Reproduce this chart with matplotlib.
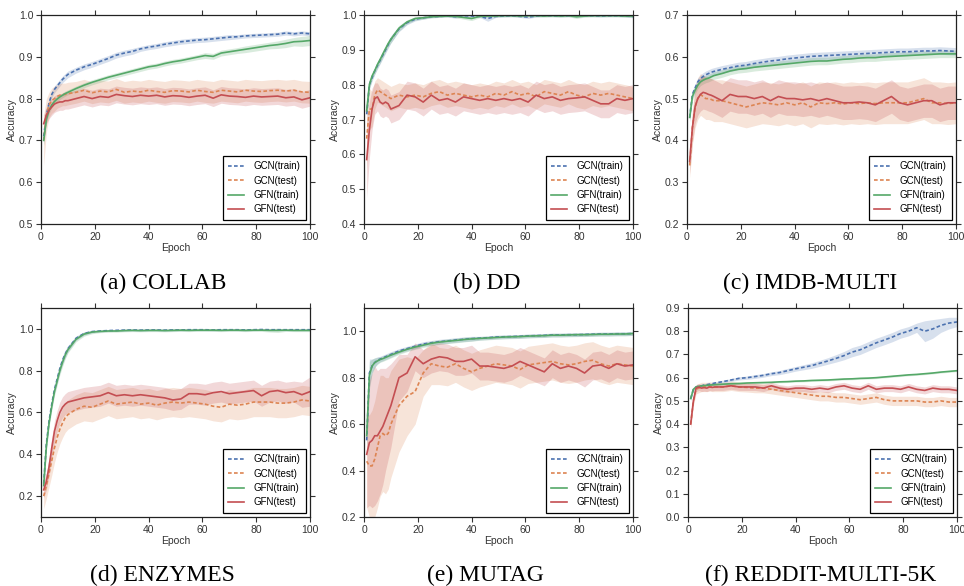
import numpy as np
import matplotlib.pyplot as plt

plt.rcParams['font.family'] = ['Liberation Sans', 'DejaVu Sans']

epochs = [1, 2, 3, 4, 5, 6, 7, 8, 9, 10, 13, 16, 19, 22, 25, 28, 31, 34, 37, 40,
          43, 46, 49, 52, 55, 58, 61, 64, 67, 70, 73, 76, 79, 82, 85, 88, 91, 94, 97, 100]

labels = ['GCN(train)', 'GCN(test)', 'GFN(train)', 'GFN(test)']
captions = ['(a) COLLAB', '(b) DD', '(c) IMDB-MULTI',
            '(d) ENZYMES', '(e) MUTAG', '(f) REDDIT-MULTI-5K']

# ---- (a) COLLAB
a_gcn_tr = [0.71, 0.76, 0.79, 0.81, 0.822, 0.83, 0.838, 0.846, 0.852, 0.858, 0.868, 0.876, 0.882, 0.889, 0.896, 0.904, 0.909, 0.913, 0.919, 0.923,
            0.926, 0.93, 0.933, 0.936, 0.938, 0.94, 0.941, 0.943, 0.945, 0.947, 0.948, 0.95, 0.951, 0.952, 0.953, 0.954, 0.957, 0.955, 0.957, 0.955]
a_gcn_tr_sd = [0.02, 0.012, 0.01, 0.008, 0.008, 0.008, 0.008, 0.008, 0.008, 0.008, 0.007, 0.007, 0.007, 0.007, 0.007, 0.007, 0.007, 0.007, 0.006, 0.006,
               0.006, 0.006, 0.006, 0.006, 0.006, 0.006, 0.006, 0.006, 0.006, 0.006, 0.005, 0.005, 0.005, 0.005, 0.005, 0.005, 0.005, 0.005, 0.005, 0.005]
a_gcn_te = [0.70, 0.76, 0.785, 0.795, 0.80, 0.805, 0.808, 0.81, 0.81, 0.812, 0.815, 0.82, 0.814, 0.818, 0.816, 0.822, 0.815, 0.818, 0.816, 0.82,
            0.817, 0.815, 0.819, 0.818, 0.816, 0.82, 0.817, 0.815, 0.82, 0.818, 0.816, 0.82, 0.818, 0.817, 0.819, 0.82, 0.818, 0.82, 0.816, 0.815]
a_gcn_te_sd = [0.06, 0.04, 0.03, 0.03, 0.03, 0.028, 0.028, 0.027, 0.027, 0.027, 0.026, 0.026, 0.026, 0.026, 0.026, 0.026, 0.026, 0.026, 0.026, 0.026,
               0.026, 0.026, 0.026, 0.026, 0.026, 0.026, 0.026, 0.026, 0.026, 0.026, 0.026, 0.026, 0.026, 0.026, 0.026, 0.026, 0.026, 0.026, 0.026, 0.026]
a_gfn_tr = [0.70, 0.75, 0.772, 0.785, 0.793, 0.799, 0.804, 0.808, 0.812, 0.815, 0.824, 0.832, 0.839, 0.845, 0.851, 0.856, 0.861, 0.866, 0.871, 0.876,
            0.879, 0.884, 0.888, 0.891, 0.895, 0.899, 0.903, 0.901, 0.909, 0.912, 0.915, 0.918, 0.921, 0.924, 0.927, 0.929, 0.932, 0.936, 0.937, 0.939]
a_gfn_tr_sd = [0.012, 0.01, 0.008, 0.007, 0.006, 0.006, 0.006, 0.006, 0.006, 0.006, 0.006, 0.006, 0.006, 0.006, 0.006, 0.006, 0.006, 0.006, 0.006, 0.006,
               0.006, 0.006, 0.006, 0.006, 0.006, 0.006, 0.007, 0.007, 0.007, 0.007, 0.007, 0.008, 0.008, 0.008, 0.008, 0.009, 0.01, 0.01, 0.012, 0.012]
a_gfn_te = [0.74, 0.76, 0.772, 0.78, 0.787, 0.79, 0.792, 0.792, 0.795, 0.795, 0.80, 0.805, 0.80, 0.805, 0.803, 0.81, 0.807, 0.805, 0.808, 0.806,
            0.808, 0.804, 0.807, 0.806, 0.803, 0.806, 0.808, 0.801, 0.809, 0.806, 0.805, 0.803, 0.806, 0.804, 0.805, 0.806, 0.802, 0.804, 0.797, 0.802]
a_gfn_te_sd = [0.02, 0.02, 0.02, 0.02, 0.02, 0.02, 0.02, 0.02, 0.02, 0.02, 0.02, 0.02, 0.02, 0.02, 0.02, 0.02, 0.02, 0.02, 0.02, 0.02,
               0.02, 0.02, 0.02, 0.02, 0.02, 0.02, 0.02, 0.02, 0.02, 0.02, 0.02, 0.02, 0.02, 0.02, 0.02, 0.02, 0.02, 0.02, 0.02, 0.02]

# ---- (b) DD
b_gcn_tr = [0.715, 0.80, 0.82, 0.84, 0.855, 0.87, 0.885, 0.90, 0.915, 0.93, 0.96, 0.978, 0.988, 0.992, 0.995, 0.996, 0.997, 0.995, 0.998, 0.997,
            0.996, 0.99, 0.996, 0.997, 0.998, 0.996, 0.994, 0.997, 0.998, 0.998, 0.997, 0.998, 0.997, 0.998, 0.998, 0.997, 0.998, 0.998, 0.997, 0.996]
b_gcn_tr_sd = [0.015, 0.012, 0.01, 0.01, 0.01, 0.01, 0.01, 0.01, 0.01, 0.01, 0.008, 0.006, 0.005, 0.004, 0.003, 0.003, 0.003, 0.004, 0.003, 0.003,
               0.003, 0.008, 0.003, 0.003, 0.003, 0.003, 0.004, 0.003, 0.003, 0.003, 0.003, 0.003, 0.003, 0.003, 0.003, 0.003, 0.003, 0.003, 0.003, 0.004]
b_gcn_te = [0.645, 0.73, 0.73, 0.77, 0.785, 0.78, 0.775, 0.77, 0.765, 0.76, 0.77, 0.765, 0.77, 0.765, 0.775, 0.78, 0.77, 0.775, 0.77, 0.765,
            0.77, 0.765, 0.775, 0.77, 0.78, 0.77, 0.775, 0.765, 0.78, 0.775, 0.77, 0.78, 0.77, 0.765, 0.775, 0.77, 0.775, 0.77, 0.765, 0.76]
b_gcn_te_sd = [0.09, 0.06, 0.05, 0.04, 0.035, 0.035, 0.035, 0.035, 0.035, 0.035, 0.035, 0.035, 0.035, 0.035, 0.035, 0.035, 0.035, 0.035, 0.035, 0.035,
               0.035, 0.035, 0.035, 0.035, 0.035, 0.035, 0.035, 0.035, 0.035, 0.035, 0.035, 0.035, 0.035, 0.035, 0.035, 0.035, 0.035, 0.035, 0.035, 0.035]
b_gfn_tr = [0.725, 0.80, 0.825, 0.84, 0.858, 0.872, 0.888, 0.903, 0.918, 0.93, 0.962, 0.98, 0.99, 0.992, 0.995, 0.996, 0.997, 0.996, 0.993, 0.99,
            0.996, 0.997, 0.997, 0.998, 0.998, 0.997, 0.998, 0.998, 0.997, 0.998, 0.997, 0.998, 0.995, 0.997, 0.998, 0.998, 0.998, 0.998, 0.997, 0.997]
b_gfn_tr_sd = [0.015, 0.012, 0.01, 0.01, 0.01, 0.01, 0.01, 0.01, 0.01, 0.01, 0.008, 0.006, 0.005, 0.004, 0.003, 0.003, 0.003, 0.004, 0.005, 0.006,
               0.004, 0.003, 0.003, 0.003, 0.003, 0.003, 0.003, 0.003, 0.003, 0.003, 0.003, 0.003, 0.005, 0.003, 0.003, 0.003, 0.003, 0.003, 0.003, 0.004]
b_gfn_te = [0.585, 0.67, 0.73, 0.76, 0.765, 0.75, 0.745, 0.75, 0.745, 0.73, 0.74, 0.77, 0.765, 0.75, 0.77, 0.755, 0.76, 0.75, 0.765, 0.76,
            0.755, 0.76, 0.755, 0.76, 0.755, 0.76, 0.75, 0.77, 0.76, 0.765, 0.755, 0.76, 0.762, 0.765, 0.755, 0.745, 0.745, 0.76, 0.755, 0.76]
b_gfn_te_sd = [0.11, 0.08, 0.06, 0.045, 0.04, 0.04, 0.04, 0.04, 0.04, 0.04, 0.04, 0.04, 0.04, 0.04, 0.04, 0.04, 0.04, 0.04, 0.04, 0.04,
               0.04, 0.04, 0.04, 0.04, 0.04, 0.04, 0.04, 0.04, 0.04, 0.04, 0.04, 0.04, 0.04, 0.04, 0.04, 0.04, 0.04, 0.04, 0.04, 0.04]

# ---- (c) IMDB-MULTI
c_gcn_tr = [0.455, 0.51, 0.525, 0.54, 0.548, 0.553, 0.557, 0.56, 0.563, 0.565, 0.57, 0.574, 0.578, 0.58, 0.584, 0.587, 0.59, 0.592, 0.595, 0.597,
            0.599, 0.601, 0.602, 0.603, 0.604, 0.605, 0.606, 0.607, 0.608, 0.609, 0.61, 0.611, 0.612, 0.612, 0.613, 0.614, 0.614, 0.615, 0.614, 0.613]
c_gcn_tr_sd = [0.01, 0.01, 0.009, 0.009, 0.009, 0.009, 0.009, 0.009, 0.009, 0.009, 0.009, 0.009, 0.009, 0.009, 0.009, 0.009, 0.009, 0.009, 0.009, 0.009,
               0.009, 0.009, 0.009, 0.009, 0.009, 0.009, 0.009, 0.009, 0.009, 0.009, 0.009, 0.009, 0.009, 0.009, 0.009, 0.009, 0.009, 0.009, 0.009, 0.009]
c_gcn_te = [0.34, 0.43, 0.48, 0.50, 0.51, 0.505, 0.50, 0.50, 0.498, 0.495, 0.495, 0.49, 0.485, 0.48, 0.485, 0.49, 0.488, 0.485, 0.49, 0.485,
            0.49, 0.48, 0.49, 0.488, 0.49, 0.487, 0.49, 0.488, 0.49, 0.488, 0.49, 0.49, 0.49, 0.49, 0.495, 0.50, 0.49, 0.49, 0.488, 0.49]
c_gcn_te_sd = [0.03, 0.04, 0.05, 0.05, 0.05, 0.05, 0.05, 0.05, 0.05, 0.05, 0.05, 0.05, 0.05, 0.05, 0.05, 0.05, 0.05, 0.05, 0.05, 0.05,
               0.05, 0.05, 0.05, 0.05, 0.05, 0.05, 0.05, 0.05, 0.05, 0.05, 0.05, 0.05, 0.05, 0.05, 0.05, 0.05, 0.05, 0.05, 0.05, 0.05]
c_gfn_tr = [0.455, 0.505, 0.52, 0.532, 0.54, 0.544, 0.547, 0.549, 0.552, 0.555, 0.56, 0.566, 0.57, 0.572, 0.575, 0.577, 0.579, 0.581, 0.583, 0.585,
            0.587, 0.589, 0.59, 0.59, 0.592, 0.594, 0.595, 0.597, 0.598, 0.598, 0.60, 0.601, 0.602, 0.603, 0.604, 0.605, 0.606, 0.607, 0.607, 0.607]
c_gfn_tr_sd = [0.01, 0.01, 0.009, 0.009, 0.009, 0.009, 0.009, 0.009, 0.009, 0.009, 0.009, 0.009, 0.009, 0.009, 0.009, 0.009, 0.009, 0.009, 0.009, 0.009,
               0.009, 0.009, 0.009, 0.009, 0.009, 0.009, 0.009, 0.009, 0.009, 0.009, 0.009, 0.009, 0.009, 0.009, 0.009, 0.009, 0.009, 0.009, 0.009, 0.009]
c_gfn_te = [0.35, 0.43, 0.48, 0.50, 0.51, 0.515, 0.513, 0.51, 0.508, 0.505, 0.495, 0.51, 0.505, 0.505, 0.50, 0.505, 0.495, 0.505, 0.50, 0.50,
            0.497, 0.50, 0.495, 0.50, 0.495, 0.49, 0.49, 0.492, 0.49, 0.485, 0.495, 0.505, 0.49, 0.485, 0.49, 0.495, 0.495, 0.485, 0.49, 0.49]
c_gfn_te_sd = [0.03, 0.035, 0.04, 0.04, 0.04, 0.04, 0.04, 0.04, 0.04, 0.04, 0.04, 0.04, 0.04, 0.04, 0.04, 0.04, 0.04, 0.04, 0.04, 0.04,
               0.04, 0.04, 0.04, 0.04, 0.04, 0.04, 0.04, 0.04, 0.04, 0.04, 0.04, 0.04, 0.04, 0.04, 0.04, 0.04, 0.04, 0.04, 0.04, 0.04]

# ---- (d) ENZYMES
d_gcn_tr = [0.26, 0.45, 0.56, 0.64, 0.71, 0.76, 0.81, 0.85, 0.88, 0.905, 0.955, 0.978, 0.987, 0.99, 0.992, 0.993, 0.994, 0.995, 0.994, 0.995,
            0.995, 0.994, 0.995, 0.995, 0.996, 0.996, 0.996, 0.995, 0.996, 0.996, 0.996, 0.995, 0.996, 0.997, 0.996, 0.996, 0.996, 0.996, 0.996, 0.996]
d_gcn_tr_sd = [0.03, 0.025, 0.02, 0.02, 0.02, 0.02, 0.02, 0.02, 0.018, 0.015, 0.01, 0.008, 0.006, 0.005, 0.005, 0.005, 0.005, 0.005, 0.005, 0.005,
               0.005, 0.005, 0.005, 0.005, 0.005, 0.005, 0.005, 0.005, 0.005, 0.005, 0.005, 0.005, 0.005, 0.005, 0.005, 0.005, 0.005, 0.005, 0.005, 0.005]
d_gcn_te = [0.20, 0.25, 0.31, 0.37, 0.43, 0.48, 0.52, 0.55, 0.575, 0.59, 0.615, 0.63, 0.625, 0.64, 0.655, 0.64, 0.645, 0.65, 0.64, 0.645,
            0.635, 0.645, 0.65, 0.645, 0.65, 0.645, 0.64, 0.63, 0.625, 0.64, 0.635, 0.64, 0.65, 0.65, 0.65, 0.645, 0.645, 0.65, 0.66, 0.655]
d_gcn_te_sd = [0.06, 0.06, 0.065, 0.07, 0.07, 0.07, 0.07, 0.07, 0.07, 0.07, 0.07, 0.07, 0.07, 0.07, 0.07, 0.07, 0.07, 0.07, 0.07, 0.07,
               0.07, 0.07, 0.07, 0.07, 0.07, 0.07, 0.07, 0.07, 0.07, 0.07, 0.07, 0.07, 0.07, 0.07, 0.07, 0.07, 0.07, 0.07, 0.07, 0.07]
d_gfn_tr = [0.25, 0.44, 0.55, 0.63, 0.70, 0.75, 0.80, 0.84, 0.875, 0.90, 0.95, 0.975, 0.985, 0.988, 0.99, 0.99, 0.992, 0.993, 0.992, 0.993,
            0.993, 0.992, 0.993, 0.994, 0.993, 0.994, 0.994, 0.994, 0.993, 0.994, 0.994, 0.993, 0.994, 0.994, 0.993, 0.993, 0.994, 0.993, 0.993, 0.993]
d_gfn_tr_sd = [0.03, 0.025, 0.02, 0.02, 0.02, 0.02, 0.02, 0.02, 0.018, 0.015, 0.012, 0.01, 0.008, 0.006, 0.006, 0.006, 0.006, 0.006, 0.006, 0.006,
               0.006, 0.006, 0.006, 0.006, 0.006, 0.006, 0.006, 0.006, 0.006, 0.006, 0.006, 0.006, 0.006, 0.006, 0.008, 0.01, 0.006, 0.006, 0.006, 0.006]
d_gfn_te = [0.23, 0.27, 0.34, 0.43, 0.51, 0.56, 0.60, 0.625, 0.64, 0.65, 0.66, 0.67, 0.675, 0.68, 0.695, 0.68, 0.685, 0.68, 0.685, 0.68,
            0.675, 0.67, 0.66, 0.665, 0.69, 0.69, 0.685, 0.695, 0.70, 0.69, 0.695, 0.70, 0.705, 0.68, 0.70, 0.705, 0.695, 0.70, 0.685, 0.70]
d_gfn_te_sd = [0.04, 0.04, 0.045, 0.05, 0.05, 0.05, 0.05, 0.05, 0.05, 0.05, 0.05, 0.05, 0.05, 0.05, 0.05, 0.05, 0.05, 0.05, 0.05, 0.05,
               0.05, 0.05, 0.05, 0.05, 0.05, 0.05, 0.05, 0.05, 0.05, 0.05, 0.05, 0.05, 0.05, 0.05, 0.05, 0.05, 0.05, 0.05, 0.06, 0.07]

# ---- (e) MUTAG
e_gcn_tr = [0.53, 0.82, 0.85, 0.865, 0.875, 0.88, 0.885, 0.89, 0.895, 0.90, 0.915, 0.925, 0.935, 0.945, 0.95, 0.955, 0.958, 0.962, 0.965, 0.968,
            0.97, 0.972, 0.975, 0.976, 0.977, 0.978, 0.98, 0.981, 0.982, 0.984, 0.984, 0.985, 0.985, 0.986, 0.987, 0.988, 0.988, 0.989, 0.989, 0.99]
e_gcn_tr_sd = [0.04, 0.06, 0.03, 0.02, 0.015, 0.012, 0.012, 0.012, 0.012, 0.012, 0.01, 0.01, 0.01, 0.01, 0.01, 0.01, 0.01, 0.01, 0.01, 0.01,
               0.008, 0.008, 0.008, 0.008, 0.008, 0.008, 0.008, 0.008, 0.008, 0.008, 0.008, 0.008, 0.008, 0.008, 0.008, 0.008, 0.008, 0.008, 0.008, 0.008]
e_gcn_te = [0.44, 0.42, 0.42, 0.45, 0.50, 0.55, 0.56, 0.55, 0.56, 0.60, 0.68, 0.72, 0.74, 0.82, 0.86, 0.85, 0.845, 0.86, 0.84, 0.825,
            0.84, 0.85, 0.86, 0.855, 0.85, 0.835, 0.855, 0.86, 0.865, 0.87, 0.86, 0.855, 0.86, 0.87, 0.875, 0.86, 0.85, 0.86, 0.855, 0.85]
e_gcn_te_sd = [0.2, 0.22, 0.24, 0.25, 0.26, 0.26, 0.25, 0.25, 0.24, 0.23, 0.2, 0.17, 0.14, 0.1, 0.09, 0.08, 0.08, 0.08, 0.08, 0.08,
               0.08, 0.08, 0.08, 0.08, 0.08, 0.08, 0.08, 0.08, 0.08, 0.08, 0.08, 0.08, 0.08, 0.08, 0.08, 0.08, 0.08, 0.08, 0.08, 0.08]
e_gfn_tr = [0.55, 0.81, 0.85, 0.865, 0.872, 0.878, 0.882, 0.887, 0.892, 0.897, 0.91, 0.922, 0.932, 0.94, 0.948, 0.953, 0.957, 0.96, 0.964, 0.967,
            0.969, 0.971, 0.973, 0.975, 0.976, 0.977, 0.979, 0.98, 0.981, 0.983, 0.983, 0.984, 0.985, 0.985, 0.986, 0.987, 0.987, 0.988, 0.988, 0.99]
e_gfn_tr_sd = [0.04, 0.06, 0.03, 0.02, 0.015, 0.012, 0.012, 0.012, 0.012, 0.012, 0.01, 0.01, 0.01, 0.01, 0.01, 0.01, 0.01, 0.01, 0.01, 0.01,
               0.008, 0.008, 0.008, 0.008, 0.008, 0.008, 0.008, 0.008, 0.008, 0.008, 0.008, 0.008, 0.008, 0.008, 0.008, 0.008, 0.008, 0.008, 0.008, 0.008]
e_gfn_te = [0.47, 0.52, 0.53, 0.55, 0.55, 0.57, 0.59, 0.62, 0.65, 0.68, 0.80, 0.82, 0.89, 0.86, 0.88, 0.89, 0.885, 0.87, 0.87, 0.88,
            0.85, 0.85, 0.845, 0.84, 0.85, 0.87, 0.855, 0.84, 0.825, 0.86, 0.84, 0.85, 0.84, 0.82, 0.85, 0.855, 0.84, 0.86, 0.85, 0.855]
e_gfn_te_sd = [0.23, 0.27, 0.29, 0.3, 0.28, 0.27, 0.25, 0.22, 0.2, 0.18, 0.1, 0.08, 0.06, 0.06, 0.06, 0.06, 0.06, 0.06, 0.06, 0.06,
               0.06, 0.06, 0.06, 0.06, 0.06, 0.06, 0.06, 0.06, 0.06, 0.06, 0.06, 0.06, 0.06, 0.06, 0.06, 0.06, 0.06, 0.06, 0.06, 0.06]

# ---- (f) REDDIT-MULTI-5K
f_gcn_tr = [0.51, 0.55, 0.56, 0.563, 0.565, 0.568, 0.57, 0.572, 0.574, 0.577, 0.583, 0.59, 0.597, 0.60, 0.605, 0.61, 0.617, 0.622, 0.63, 0.638,
            0.645, 0.652, 0.662, 0.672, 0.683, 0.695, 0.71, 0.72, 0.735, 0.75, 0.762, 0.775, 0.79, 0.80, 0.815, 0.80, 0.81, 0.825, 0.835, 0.84]
f_gcn_tr_sd = [0.01, 0.006, 0.005, 0.005, 0.005, 0.005, 0.005, 0.005, 0.005, 0.005, 0.006, 0.006, 0.007, 0.007, 0.008, 0.008, 0.008, 0.009, 0.01, 0.01,
               0.011, 0.012, 0.013, 0.014, 0.016, 0.018, 0.02, 0.02, 0.02, 0.02, 0.02, 0.02, 0.02, 0.02, 0.02, 0.045, 0.04, 0.03, 0.025, 0.02]
f_gcn_te = [0.40, 0.50, 0.55, 0.555, 0.56, 0.56, 0.56, 0.562, 0.56, 0.56, 0.56, 0.565, 0.56, 0.558, 0.555, 0.555, 0.55, 0.545, 0.54, 0.535,
            0.53, 0.525, 0.52, 0.52, 0.515, 0.515, 0.51, 0.505, 0.51, 0.515, 0.505, 0.50, 0.50, 0.50, 0.50, 0.495, 0.495, 0.50, 0.495, 0.495]
f_gcn_te_sd = [0.02, 0.02, 0.02, 0.02, 0.02, 0.02, 0.02, 0.02, 0.02, 0.02, 0.02, 0.02, 0.02, 0.02, 0.02, 0.02, 0.02, 0.02, 0.02, 0.02,
               0.02, 0.02, 0.02, 0.02, 0.02, 0.02, 0.02, 0.02, 0.02, 0.02, 0.02, 0.02, 0.02, 0.02, 0.02, 0.02, 0.02, 0.02, 0.02, 0.02]
f_gfn_tr = [0.51, 0.55, 0.56, 0.563, 0.565, 0.566, 0.567, 0.568, 0.569, 0.57, 0.572, 0.574, 0.575, 0.577, 0.578, 0.579, 0.58, 0.582, 0.583, 0.585,
            0.586, 0.588, 0.589, 0.59, 0.592, 0.594, 0.595, 0.597, 0.598, 0.60, 0.603, 0.606, 0.609, 0.612, 0.614, 0.617, 0.62, 0.624, 0.627, 0.63]
f_gfn_tr_sd = [0.006, 0.005, 0.004, 0.004, 0.004, 0.004, 0.004, 0.004, 0.004, 0.004, 0.004, 0.004, 0.004, 0.004, 0.004, 0.004, 0.004, 0.004, 0.004, 0.004,
               0.004, 0.004, 0.004, 0.004, 0.004, 0.004, 0.004, 0.004, 0.004, 0.004, 0.004, 0.004, 0.004, 0.004, 0.004, 0.004, 0.004, 0.004, 0.004, 0.004]
f_gfn_te = [0.40, 0.50, 0.555, 0.56, 0.555, 0.557, 0.555, 0.56, 0.558, 0.56, 0.56, 0.565, 0.56, 0.56, 0.56, 0.555, 0.565, 0.555, 0.55, 0.555,
            0.555, 0.55, 0.555, 0.55, 0.56, 0.565, 0.555, 0.55, 0.565, 0.55, 0.555, 0.555, 0.55, 0.56, 0.55, 0.545, 0.555, 0.55, 0.55, 0.545]
f_gfn_te_sd = [0.015, 0.015, 0.015, 0.015, 0.015, 0.015, 0.015, 0.015, 0.015, 0.015, 0.015, 0.015, 0.015, 0.015, 0.015, 0.015, 0.015, 0.015, 0.015, 0.015,
               0.015, 0.015, 0.015, 0.015, 0.015, 0.015, 0.015, 0.015, 0.015, 0.015, 0.015, 0.015, 0.015, 0.015, 0.015, 0.015, 0.015, 0.015, 0.015, 0.015]

panels = [
    [(a_gcn_tr, a_gcn_tr_sd), (a_gcn_te, a_gcn_te_sd), (a_gfn_tr, a_gfn_tr_sd), (a_gfn_te, a_gfn_te_sd)],
    [(b_gcn_tr, b_gcn_tr_sd), (b_gcn_te, b_gcn_te_sd), (b_gfn_tr, b_gfn_tr_sd), (b_gfn_te, b_gfn_te_sd)],
    [(c_gcn_tr, c_gcn_tr_sd), (c_gcn_te, c_gcn_te_sd), (c_gfn_tr, c_gfn_tr_sd), (c_gfn_te, c_gfn_te_sd)],
    [(d_gcn_tr, d_gcn_tr_sd), (d_gcn_te, d_gcn_te_sd), (d_gfn_tr, d_gfn_tr_sd), (d_gfn_te, d_gfn_te_sd)],
    [(e_gcn_tr, e_gcn_tr_sd), (e_gcn_te, e_gcn_te_sd), (e_gfn_tr, e_gfn_tr_sd), (e_gfn_te, e_gfn_te_sd)],
    [(f_gcn_tr, f_gcn_tr_sd), (f_gcn_te, f_gcn_te_sd), (f_gfn_tr, f_gfn_tr_sd), (f_gfn_te, f_gfn_te_sd)],
]

ylims = [(0.5, 1.0), (0.4, 1.0), (0.2, 0.7), (0.1, 1.1), (0.2, 1.1), (0.0, 0.9)]
yticks = [np.arange(0.5, 1.01, 0.1), np.arange(0.4, 1.01, 0.1), np.arange(0.2, 0.71, 0.1),
          np.arange(0.2, 1.01, 0.2), np.arange(0.2, 1.01, 0.2), np.arange(0.0, 0.91, 0.1)]

colors = ['#4C72B0', '#DD8452', '#55A868', '#C44E52']
styles = [(0, (2.2, 1.4)), (0, (2.2, 1.4)), '-', '-']

fig = plt.figure(figsize=(9.64, 5.86), dpi=100)

lefts = [41, 364, 687]
tops = [15, 308]
cap_x = [163, 487, 810, 162, 485, 821]
cap_y = [283, 575]
W, H = 964.0, 586.0

for i, series in enumerate(panels):
    r, c = divmod(i, 3)
    x0 = lefts[c] + (1 if r == 1 and c == 2 else 0)
    ax = fig.add_axes([x0 / W, 1 - (tops[r] + 209) / H, 269 / W, 209 / H])
    for (m, sd), col, ls, lab in zip(series, colors, styles, labels):
        m = np.array(m)
        sd = np.array(sd)
        ax.fill_between(epochs, m - sd, m + sd, color=col, alpha=0.22, lw=0)
        ax.plot(epochs, m, color=col, linestyle=ls, lw=1.2, label=lab)
    ax.set_xlim(0, 100)
    ax.set_ylim(*ylims[i])
    ax.set_xticks([0, 20, 40, 60, 80, 100])
    ax.set_yticks(yticks[i])
    ax.yaxis.set_major_formatter(plt.FormatStrFormatter('%.1f'))
    ax.tick_params(direction='out', top=True, right=True, length=3.5, width=0.8,
                   labelsize=7.5, colors='#333333', pad=2)
    for sp in ax.spines.values():
        sp.set_linewidth(0.9)
        sp.set_color('#222222')
    ax.set_xlabel('Epoch', fontsize=7.5, color='#333333', labelpad=1)
    ax.set_ylabel('Accuracy', fontsize=7.5, color='#333333', labelpad=1.5)
    leg = ax.legend(loc='lower right', fontsize=7, handlelength=1.6, handletextpad=1.0,
                    fancybox=False, framealpha=1, borderaxespad=0.45,
                    labelspacing=0.45, borderpad=0.55)
    leg.get_frame().set_edgecolor('black')
    leg.get_frame().set_linewidth(0.9)
    fig.text(cap_x[i] / W, 1 - cap_y[r] / H, captions[i], ha='center', va='center',
             fontsize=17, family='Liberation Serif')

fig.savefig('out.png', dpi=100)
